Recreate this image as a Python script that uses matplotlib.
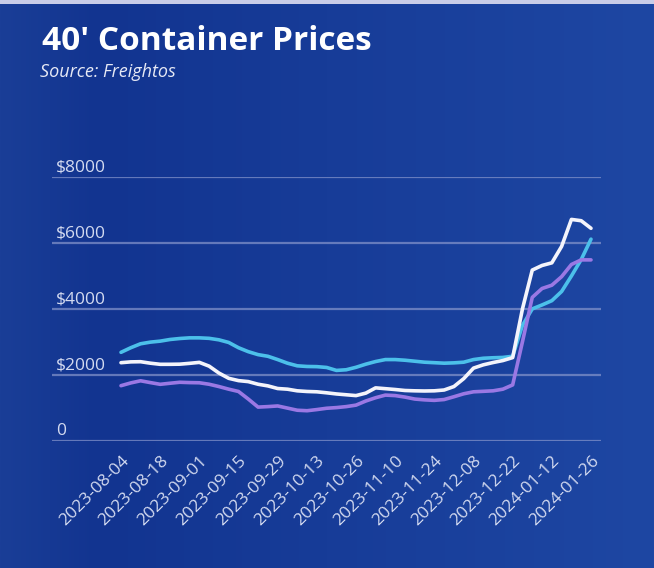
import numpy as np
import matplotlib
matplotlib.use("Agg")
import matplotlib.pyplot as plt
import matplotlib.transforms as mtransforms
from matplotlib.colors import LinearSegmentedColormap

# ---- data ----
tick_labels = ["2023-08-04", "2023-08-18", "2023-09-01", "2023-09-15", "2023-09-29",
               "2023-10-13", "2023-10-26", "2023-11-10", "2023-11-24", "2023-12-08",
               "2023-12-22", "2024-01-12", "2024-01-26"]
# positions of observations (half-week steps, in units of weeks since first tick)
x_pos = [i * 0.5 for i in range(49)]

cyan_vals = [2680, 2820, 2940, 2990, 3020, 3070, 3100, 3120, 3120, 3105,
             3060, 2980, 2820, 2700, 2610, 2560, 2460, 2350, 2270, 2250,
             2245, 2220, 2130, 2150, 2225, 2320, 2400, 2460, 2460, 2440,
             2410, 2380, 2365, 2350, 2360, 2380, 2460, 2500, 2515, 2525,
             2560, 3500, 4000, 4120, 4250, 4530, 5000, 5500, 6120]

white_vals = [2365, 2390, 2395, 2350, 2316, 2316, 2320, 2345, 2375, 2260,
              2050, 1890, 1820, 1790, 1710, 1660, 1580, 1560, 1510, 1490,
              1480, 1450, 1415, 1390, 1365, 1440, 1600, 1575, 1550, 1520,
              1510, 1505, 1510, 1535, 1640, 1880, 2200, 2300, 2370, 2430,
              2520, 4000, 5180, 5320, 5400, 5900, 6720, 6680, 6450]

purple_vals = [1666, 1750, 1815, 1760, 1708, 1740, 1770, 1760, 1755, 1710,
               1640, 1560, 1490, 1260, 1015, 1030, 1050, 985, 920, 905,
               940, 980, 1000, 1030, 1075, 1200, 1300, 1380, 1365, 1320,
               1260, 1235, 1220, 1245, 1330, 1420, 1480, 1495, 1510, 1560,
               1690, 3000, 4350, 4620, 4720, 4980, 5350, 5490, 5490]

y_ticks = [0, 2000, 4000, 6000, 8000]
y_tick_labels = ["0", "$2000", "$4000", "$6000", "$8000"]

# ---- styling ----
plt.rcParams['font.family'] = ['Open Sans', 'DejaVu Sans']
W, H = 654, 568
fig = plt.figure(figsize=(W / 100, H / 100), dpi=100)

# background gradient
bg = fig.add_axes([0, 0, 1, 1], zorder=-10)
cmap = LinearSegmentedColormap.from_list(
    "bg", [(0.0, "#1a3e97"), (0.15, "#123490"), (0.5, "#173c98"), (1.0, "#1e47a3")])
grad = np.linspace(0, 1, 256).reshape(1, -1)
bg.imshow(grad, aspect="auto", cmap=cmap, extent=[0, 1, 0, 1])
bg.add_patch(plt.Rectangle((0, 1 - 4 / H), 1, 4 / H, color="#c9cde8", lw=0))
bg.set_xlim(0, 1)
bg.set_ylim(0, 1)
bg.axis("off")

left_px, right_px = 52, 601
top_px, bot_px = 177.3, 440.5
ax = fig.add_axes([left_px / W, 1 - bot_px / H, (right_px - left_px) / W, (bot_px - top_px) / H])
ax.set_facecolor("none")

line_kw = dict(lw=2.6, solid_capstyle="round", solid_joinstyle="round")
ax.plot(x_pos, cyan_vals, color="#4cc0ea", zorder=3, **line_kw)
ax.plot(x_pos, purple_vals, color="#9a78e4", zorder=3, **line_kw)
ax.plot(x_pos, white_vals, color="#f4f4fb", zorder=4, **line_kw)

first_px, last_px = 121, 591
unit = (last_px - first_px) / 24
ax.set_xlim(-(first_px - left_px) / unit, 24 + (right_px - last_px) / unit)
ax.set_ylim(0, 8000)

for s in ax.spines.values():
    s.set_visible(False)

ax.set_yticks(y_ticks)
ax.set_yticklabels(y_tick_labels)
ax.yaxis.grid(True, color="#8796cc", lw=1.6, alpha=0.7)
ax.set_axisbelow(True)
ax.tick_params(axis="y", length=0, pad=-3, labelsize=12.5, labelcolor="#d3daf0")
off = mtransforms.ScaledTranslation(0, 1.2 / 72, fig.dpi_scale_trans)
for lab in ax.get_yticklabels():
    lab.set_horizontalalignment("left")
    lab.set_verticalalignment("bottom")
    lab.set_transform(lab.get_transform() + off)

ax.set_xticks(list(range(0, 25, 2)))
ax.set_xticklabels(tick_labels, rotation=45, ha="right", rotation_mode="anchor")
ax.tick_params(axis="x", length=0, pad=9, labelsize=12.5, labelcolor="#d3daf0")

fig.text(42 / W, 1 - 50 / H, "40' Container Prices", color="white", fontsize=24,
         fontweight="bold", ha="left", va="baseline")
fig.text(40 / W, 1 - 77 / H, "Source: Freightos", color="#e6e9f5", fontsize=13,
         style="italic", ha="left", va="baseline")

fig.savefig("out.png", dpi=100)
